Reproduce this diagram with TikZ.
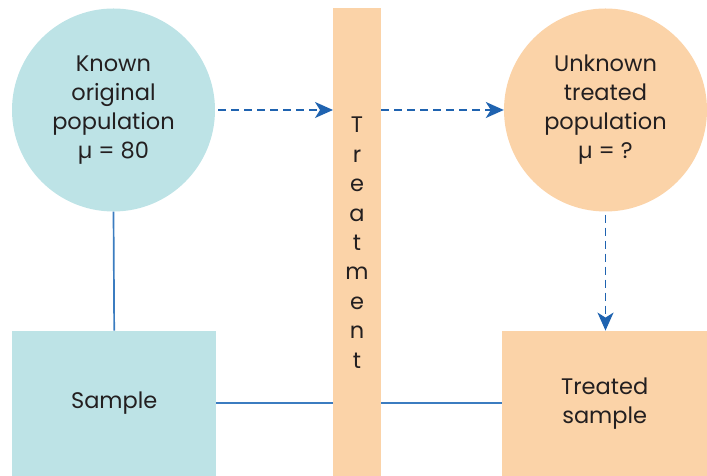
\documentclass[tikz,border=0pt]{standalone}
\usepackage{fontspec}
\setmainfont{Poppins}
\usetikzlibrary{arrows.meta,calc}
\definecolor{tealfill}{HTML}{BDE3E6}
\definecolor{orangefill}{HTML}{FBD3A8}
\definecolor{lineblue}{HTML}{3B7CC0}
\definecolor{arrowblue}{HTML}{1F63B0}
\definecolor{txt}{HTML}{231F20}
\begin{document}
\begin{tikzpicture}[x=1pt,y=1pt,
  every node/.style={text=txt,font=\fontsize{22.5}{29}\selectfont},
  popcircle/.style={circle,minimum size=203pt,inner sep=0pt,align=center},
  solidline/.style={draw=lineblue,line width=1.7pt},
  dasharrow/.style={draw=arrowblue,line width=1.6pt,dash pattern=on 8pt off 5pt,
    -{Stealth[length=18pt,width=16pt,inset=5pt]}},
  letter/.style={anchor=base,inner sep=0pt}]
\useasboundingbox (0,0) rectangle (707,476);
% shapes
\node[popcircle,fill=tealfill] (L) at (113.5,366) {Known\\original\\population\\µ = 80};
\node[popcircle,fill=orangefill] (R) at (605.5,366) {Unknown\\treated\\population\\µ = ?};
\path[fill=orangefill] (333,0) rectangle (381,468);
\coordinate (barW) at (333,234);
\coordinate (barE) at (381,234);
\node[fill=tealfill,minimum width=204pt,minimum height=145pt,inner sep=0pt,anchor=south west] (S) at (12,0) {Sample};
\node[fill=orangefill,minimum width=205pt,minimum height=145pt,inner sep=0pt,anchor=south west,align=center] (T) at (502,0) {Treated\\sample};
% Treatment letters
\foreach \ch [count=\i from 0] in {T,r,e,a,t,m,e,n,t} {
  \node[letter] (tl\i) at (357,{476-133-29.4*\i}) {\ch};
}
% connectors
\draw[solidline] (L.south) -- (S.north);
\draw[solidline] (S.east) -- (S.east -| barW);
\draw[solidline] (T.west -| barE) -- (T.west);
\draw[dasharrow,shorten <=3pt] (L.east) -- (L.east -| barW);
\draw[dasharrow] (R.west -| barE) -- (R.west);
\draw[dasharrow,shorten <=3pt] (R.south) -- (R.south |- T.north);
\end{tikzpicture}
\end{document}
